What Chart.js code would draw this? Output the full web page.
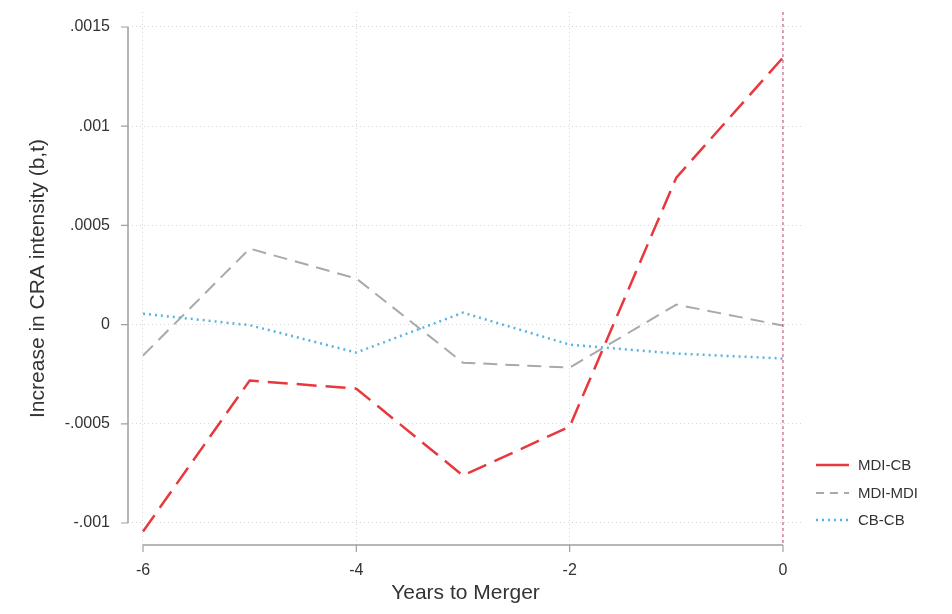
<!DOCTYPE html>
<html>
<head>
<meta charset="utf-8">
<script src="https://cdn.jsdelivr.net/npm/chart.js@4/dist/chart.umd.min.js"></script>
<style>
  html, body { margin: 0; padding: 0; background: #fff; }
  #wrap { width: 952px; height: 614px; }
</style>
</head>
<body>
<div id="wrap"><canvas id="c" width="952" height="614"></canvas></div>
<script>
const years = [-6, -5, -4, -3, -2, -1, 0];
const mdiCB = [-0.001043, -0.000282, -0.000323, -0.000761, -0.000514, 0.000741, 0.001346];
const mdiMDI = [-0.000156, 0.000383, 0.000232, -0.000192, -0.000217, 0.000101, -0.000005];
const cbCB = [0.000055, -0.000003, -0.000141, 0.000060, -0.000101, -0.000146, -0.000171];
const xTicks = [-6, -4, -2, 0];
const yTicks = [-0.001, -0.0005, 0, 0.0005, 0.001, 0.0015];
const yTickLabels = ['-.001', '-.0005', '0', '.0005', '.001', '.0015'];
const seriesNames = ['MDI-CB', 'MDI-MDI', 'CB-CB'];
const mergerYear = 0;

const FONT = "'Liberation Sans', Arial, sans-serif";

function pts(vals) { return years.map((x, i) => ({ x: x, y: vals[i] })); }

const styles = [
  { color: '#e8383d', dash: [20, 9], width: 2.5, legendDash: [] },
  { color: '#a9a9a9', dash: [14, 8], width: 2, legendDash: [8, 6] },
  { color: '#5ab4e0', dash: [2, 4], width: 2.5, legendDash: [2, 4] }
];
const allVals = [mdiCB, mdiMDI, cbCB];

const datasets = allVals.map((v, i) => ({
  label: seriesNames[i],
  data: pts(v),
  borderColor: styles[i].color,
  backgroundColor: styles[i].color,
  borderWidth: styles[i].width,
  borderDash: styles[i].dash,
  pointRadius: 0,
  tension: 0,
  fill: false,
  order: 3 - i
}));

const TICK_LEN = 7;

const overlay = {
  id: 'overlay',
  beforeDatasetsDraw(chart) {
    const ctx = chart.ctx, ca = chart.chartArea;
    const xs = chart.scales.x, ys = chart.scales.y;
    ctx.save();
    ctx.strokeStyle = '#a0a0a0';
    ctx.lineWidth = 1.5;
    ctx.beginPath();
    ctx.moveTo(ca.left, ys.getPixelForValue(yTicks[yTicks.length - 1]));
    ctx.lineTo(ca.left, ys.getPixelForValue(yTicks[0]));
    ctx.moveTo(xs.getPixelForValue(xTicks[0]), ca.bottom);
    ctx.lineTo(xs.getPixelForValue(xTicks[xTicks.length - 1]), ca.bottom);
    ctx.stroke();
    ctx.lineWidth = 1.2;
    ctx.beginPath();
    yTicks.forEach(v => { const p = ys.getPixelForValue(v); ctx.moveTo(ca.left - TICK_LEN, p); ctx.lineTo(ca.left, p); });
    xTicks.forEach(v => { const p = xs.getPixelForValue(v); ctx.moveTo(p, ca.bottom); ctx.lineTo(p, ca.bottom + TICK_LEN); });
    ctx.stroke();
    ctx.restore();
  },
  afterDatasetsDraw(chart) {
    const ctx = chart.ctx, ca = chart.chartArea;
    const xs = chart.scales.x;
    const px = xs.getPixelForValue(mergerYear);
    ctx.save();
    ctx.strokeStyle = '#c8406a';
    ctx.lineWidth = 1;
    ctx.setLineDash([3, 3]);
    ctx.beginPath();
    ctx.moveTo(px, ca.top);
    ctx.lineTo(px, ca.bottom);
    ctx.stroke();
    ctx.restore();
  },
  afterDraw(chart) {
    const ctx = chart.ctx;
    const x0 = 816, x1 = 849, tx = 858;
    const ys0 = [465, 493, 520];
    ctx.save();
    chart.data.datasets.forEach((ds, i) => {
      const y = ys0[i];
      ctx.strokeStyle = styles[i].color;
      ctx.lineWidth = styles[i].width;
      ctx.setLineDash(styles[i].legendDash);
      ctx.beginPath();
      ctx.moveTo(x0, y);
      ctx.lineTo(x1, y);
      ctx.stroke();
      ctx.setLineDash([]);
      ctx.fillStyle = '#333';
      ctx.font = '15px ' + FONT;
      ctx.textBaseline = 'middle';
      ctx.textAlign = 'left';
      ctx.fillText(ds.label, tx, y + 1);
    });
    ctx.restore();
  }
};

new Chart(document.getElementById('c'), {
  type: 'line',
  data: { datasets: datasets },
  options: {
    responsive: false,
    animation: false,
    devicePixelRatio: 1,
    layout: { padding: { top: 12, right: 149, bottom: 0, left: 0 } },
    plugins: { legend: { display: false }, tooltip: { enabled: false } },
    scales: {
      x: {
        type: 'linear',
        min: -6.1406,
        max: 0.1875,
        afterBuildTicks(s) { s.ticks = xTicks.map(v => ({ value: v })); },
        afterFit(s) { s.height = 69; s.paddingLeft = 0; s.paddingRight = 0; },
        ticks: {
          font: { family: FONT, size: 16 },
          color: '#333',
          padding: 9,
          maxRotation: 0,
          callback: v => String(v)
        },
        grid: { color: '#d6d6d6', lineWidth: 1, drawTicks: true, tickLength: TICK_LEN, tickColor: 'rgba(0,0,0,0)', tickBorderDash: [] },
        border: { display: false, dash: [1, 3] },
        title: { display: true, text: 'Years to Merger', font: { family: FONT, size: 21 }, color: '#333', padding: { top: 2, bottom: 8 } }
      },
      y: {
        type: 'linear',
        min: -0.001111,
        max: 0.0015756,
        afterBuildTicks(s) { s.ticks = yTicks.map(v => ({ value: v })); },
        afterFit(s) { s.width = 128; s.paddingTop = 0; s.paddingBottom = 0; },
        ticks: {
          font: { family: FONT, size: 16 },
          color: '#333',
          padding: 11,
          callback: (v) => { const i = yTicks.findIndex(t => Math.abs(t - v) < 1e-9); return i >= 0 ? yTickLabels[i] : ''; }
        },
        grid: { color: '#d6d6d6', lineWidth: 1, drawTicks: true, tickLength: TICK_LEN, tickColor: 'rgba(0,0,0,0)', tickBorderDash: [] },
        border: { display: false, dash: [1, 3] },
        title: { display: true, text: 'Increase in CRA intensity (b,t)', font: { family: FONT, size: 21 }, color: '#333', padding: { top: 26, bottom: 4 } }
      }
    }
  },
  plugins: [overlay]
});
</script>
</body>
</html>
